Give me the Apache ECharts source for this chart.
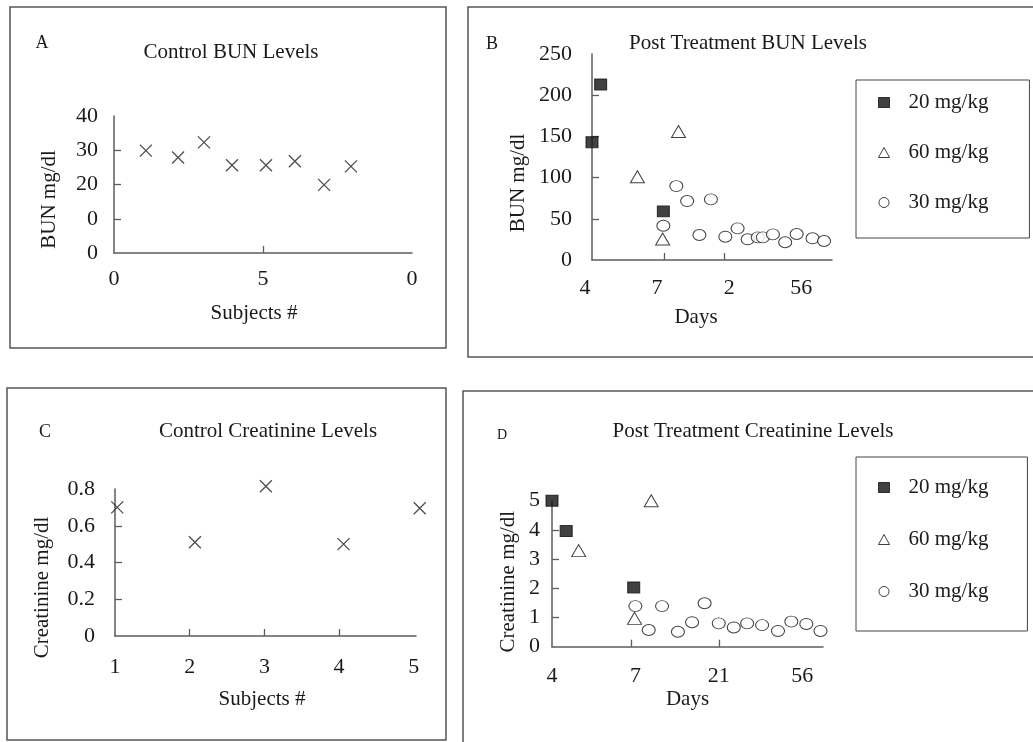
<!DOCTYPE html>
<html>
<head>
<meta charset="utf-8">
<title>BUN and Creatinine Levels</title>
<script src="https://cdn.jsdelivr.net/npm/echarts@6/dist/echarts.min.js"></script>
<style>
  html, body { margin: 0; padding: 0; background: #fff; }
  #chart { width: 1033px; height: 742px; }
</style>
</head>
<body>
<div id="chart"></div>
<script>
// ---- data ----

// A: control BUN (subjects 1..8)
var ctrlBunX = [1.07, 2.15, 3.02, 3.96, 5.1, 6.07, 7.05, 7.95];
var ctrlBunY = [29.9, 27.9, 32.3, 25.6, 25.6, 26.8, 19.9, 25.3];
var ctrlBunYTicks = ['0', '0', '20', '30', '40'];   // printed this way (10 shows as "0")
var ctrlBunXTicks = ['0', '5', '0'];

// B: post treatment BUN, x = position along the day axis
var bun20X = [0, 0.12, 0.99];
var bun20Y = [143, 213, 59];
var bun60X = [0.63, 1.20, 0.98];
var bun60Y = [101, 156, 25.5];
var bun30X = [0.99, 1.17, 1.32, 1.49, 1.65, 1.85, 2.02, 2.16, 2.30, 2.37, 2.51, 2.68, 2.84, 3.06, 3.22];
var bun30Y = [41.6, 89.7, 71.5, 30.3, 73.6, 28.3, 38.4, 25.1, 27.5, 27.5, 31.1, 21.5, 31.5, 26.3, 23];
var bunDayTicks = ['4', '7', '2', '56'];

// C: control creatinine (subjects 1..5)
var ctrlCreX = [1.03, 2.07, 3.02, 4.06, 5.08];
var ctrlCreY = [0.70, 0.51, 0.815, 0.50, 0.695];

// D: post treatment creatinine
var cre20X = [0, 0.17, 0.98];
var cre20Y = [5.0, 3.96, 2.03];
var cre60X = [0.32, 1.19, 0.99];
var cre60Y = [3.29, 5.0, 0.97];
var cre30X = [1.0, 1.16, 1.32, 1.51, 1.68, 1.83, 2.0, 2.18, 2.34, 2.52, 2.71, 2.87, 3.05, 3.22];
var cre30Y = [1.39, 0.57, 1.39, 0.51, 0.84, 1.49, 0.80, 0.66, 0.80, 0.74, 0.54, 0.86, 0.78, 0.54];
var creDayTicks = ['4', '7', '21', '56'];

var doseNames = ['20 mg/kg', '60 mg/kg', '30 mg/kg'];

// ---- style ----
var FONT = "'Liberation Serif', 'Times New Roman', serif";
var INK = '#1a1a1a';
var LINE = '#5c5c5c';
var CROSS = 'path://M0,0L10,10M10,0L0,10';

function pairs(xs, ys) {
	var out = [];
	for (var i = 0; i < xs.length; i++) {
		out.push([xs[i], ys[i]]);
	}
	return out;
}

// one value axis, ticks drawn inward like the original
function makeAxis(o) {
	return {
		type: 'value',
		gridIndex: o.grid,
		min: o.min,
		max: o.max,
		name: o.name,
		nameLocation: 'middle',
		nameGap: o.nameGap,
		nameTextStyle: {
			fontFamily: FONT, fontSize: 21, color: INK,
			padding: o.namePad || [0, 0, 0, 0]
		},
		axisLine: { show: true, lineStyle: { color: LINE, width: 1.5 } },
		axisTick: {
			show: true, inside: true, length: 7,
			customValues: o.ticks,
			lineStyle: { color: LINE, width: 1.3 }
		},
		axisLabel: {
			customValues: o.labels,
			formatter: o.fmt,
			margin: o.margin,
			padding: o.labelPad || 0,
			fontFamily: FONT, fontSize: 22, color: INK
		},
		splitLine: { show: false }
	};
}

function crossSeries(name, x, y, axis) {
	return {
		type: 'scatter', name: name, xAxisIndex: axis, yAxisIndex: axis,
		symbol: CROSS, symbolSize: 12, clip: false,
		itemStyle: { color: 'transparent', borderColor: '#222', borderWidth: 1.3 },
		data: pairs(x, y)
	};
}

function doseSeries(name, x, y, axis) {
	var s = { type: 'scatter', name: name, xAxisIndex: axis, yAxisIndex: axis, clip: false, data: pairs(x, y) };
	if (name === '20 mg/kg') {
		s.symbol = 'rect';
		s.symbolSize = [12, 11];
		s.itemStyle = { color: '#111', borderColor: '#111', borderWidth: 1 };
	} else if (name === '60 mg/kg') {
		s.symbol = 'triangle';
		s.symbolSize = [14, 12];
		s.itemStyle = { color: '#fff', borderColor: '#111', borderWidth: 1 };
	} else {
		s.symbol = 'circle';
		s.symbolSize = [13, 11];
		s.itemStyle = { color: '#fff', borderColor: '#111', borderWidth: 1 };
	}
	return s;
}

function titleText(text, x, y, size) {
	return {
		text: text, left: x, top: y, padding: 0, textAlign: 'center',
		textStyle: { fontFamily: FONT, fontSize: size, fontWeight: 'normal', color: INK }
	};
}

function legendBox(top, pad, gap) {
	return {
		data: doseNames,
		orient: 'vertical',
		left: 856, top: top,
		padding: pad,
		itemGap: gap,
		itemWidth: 11, itemHeight: 10,
		selectedMode: false,
		borderColor: '#444', borderWidth: 1,
		itemStyle: { borderWidth: 1 },
		textStyle: { fontFamily: FONT, fontSize: 21, color: INK, lineHeight: 21, padding: [0, 0, 0, 14] }
	};
}

function frame(x, y, w, h) {
	return {
		type: 'rect', silent: true,
		shape: { x: x, y: y, width: w, height: h },
		style: { fill: 'none', stroke: '#555', lineWidth: 1.5 }
	};
}

var myChart = echarts.init(document.getElementById('chart'), null, { renderer: 'canvas' });

var option = {
	animation: false,
	backgroundColor: '#fff',
	graphic: [
		frame(10, 7, 436, 341),
		frame(468, 7, 600, 350),
		frame(7, 388, 439, 352),
		frame(463, 391, 600, 400)
	],
	title: [
		titleText('A', 42, 34, 18),
		titleText('Control BUN Levels', 231, 42, 21),
		titleText('B', 492, 35, 18),
		titleText('Post Treatment BUN Levels', 748, 33, 21),
		titleText('C', 45, 423, 18),
		titleText('Control Creatinine Levels', 268, 421, 21),
		titleText('D', 502, 428, 14),
		titleText('Post Treatment Creatinine Levels', 753, 421, 21)
	],
	legend: [
		legendBox(80, [12, 41, 25, 22], 29),
		legendBox(457, [20, 39, 29, 22], 31)
	],
	grid: [
		{ left: 114, top: 116, width: 298, height: 137 },
		{ left: 592, top: 54, width: 240, height: 206 },
		{ left: 115, top: 489, width: 301, height: 147 },
		{ left: 552, top: 500.7, width: 271, height: 146 }
	],
	xAxis: [
		makeAxis({ grid: 0, min: 0, max: 10, name: 'Subjects #', nameGap: 50, namePad: [0, 18, 0, 0],
			labels: [0, 5, 10], ticks: [5], margin: 15,
			fmt: function (v) { return ctrlBunXTicks[Math.round(v / 5)]; } }),
		makeAxis({ grid: 1, min: 0, max: 3.33, name: 'Days', nameGap: 47, namePad: [0, 32, 0, 0],
			labels: [0, 1, 2, 3], ticks: [1, 1.83], margin: 17, labelPad: [0, 14, 0, 0],
			fmt: function (v) { return bunDayTicks[Math.round(v)]; } }),
		makeAxis({ grid: 2, min: 1, max: 5.03, name: 'Subjects #', nameGap: 53, namePad: [0, 7, 0, 0],
			labels: [1, 2, 3, 4, 5], ticks: [2, 3, 4], margin: 20,
			fmt: function (v) { return String(v); } }),
		makeAxis({ grid: 3, min: 0, max: 3.25, name: 'Days', nameGap: 42,
			labels: [0, 1, 2, 3], ticks: [0.95, 2], margin: 19,
			fmt: function (v) { return creDayTicks[Math.round(v)]; } })
	],
	yAxis: [
		makeAxis({ grid: 0, min: 0, max: 40, name: 'BUN mg/dl', nameGap: 54, namePad: [0, 30, 0, 0],
			labels: [0, 10, 20, 30, 40], ticks: [10, 20, 30], margin: 16,
			fmt: function (v) { return ctrlBunYTicks[Math.round(v / 10)]; } }),
		makeAxis({ grid: 1, min: 0, max: 250, name: 'BUN mg/dl', nameGap: 63, namePad: [0, 52, 0, 0],
			labels: [0, 50, 100, 150, 200, 250], ticks: [50, 100, 150, 200], margin: 20,
			fmt: function (v) { return String(v); } }),
		makeAxis({ grid: 2, min: 0, max: 0.8, name: 'Creatinine mg/dl', nameGap: 62, namePad: [0, 50, 0, 0],
			labels: [0, 0.2, 0.4, 0.6, 0.8], ticks: [0.2, 0.4, 0.6], margin: 20,
			fmt: function (v) { return String(Math.round(v * 10) / 10); } }),
		makeAxis({ grid: 3, min: 0, max: 5, name: 'Creatinine mg/dl', nameGap: 33, namePad: [0, 16, 0, 0],
			labels: [0, 1, 2, 3, 4, 5], ticks: [1, 2, 3, 4], margin: 12,
			fmt: function (v) { return String(v); } })
	],
	series: [
		crossSeries('Control BUN', ctrlBunX, ctrlBunY, 0),
		doseSeries('30 mg/kg', bun30X, bun30Y, 1),
		doseSeries('60 mg/kg', bun60X, bun60Y, 1),
		doseSeries('20 mg/kg', bun20X, bun20Y, 1),
		crossSeries('Control Creatinine', ctrlCreX, ctrlCreY, 2),
		doseSeries('30 mg/kg', cre30X, cre30Y, 3),
		doseSeries('60 mg/kg', cre60X, cre60Y, 3),
		doseSeries('20 mg/kg', cre20X, cre20Y, 3)
	]
};

myChart.setOption(option);
</script>
</body>
</html>
